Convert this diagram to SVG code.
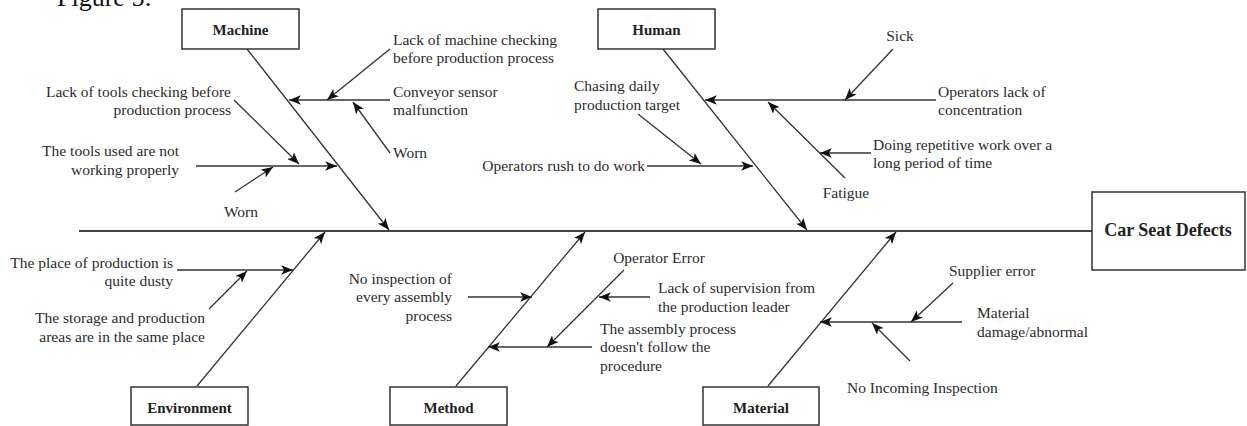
<svg xmlns="http://www.w3.org/2000/svg" width="1247" height="426" viewBox="0 0 1247 426">
<style>
  .t{font-family:"Liberation Serif","Times New Roman",serif;font-size:15.5px;fill:#2b2b2b}
  .b{font-family:"Liberation Serif","Times New Roman",serif;font-size:15px;font-weight:bold;fill:#222;text-anchor:middle}
  .r{text-anchor:end}
  .m{text-anchor:middle}
  .box{fill:#fff;stroke:#333;stroke-width:1.5}
  .ln{stroke:#333;stroke-width:1.3;fill:none}
  .a{stroke:#333;stroke-width:1.3;fill:none;marker-end:url(#ah)}
  .sp{stroke:#444;stroke-width:2;fill:none}
</style>
<defs>
  <marker id="ah" viewBox="0 0 10 8" refX="10" refY="4" markerWidth="12" markerHeight="9.5" markerUnits="userSpaceOnUse" orient="auto">
    <path d="M0,0 L10,4 L0,8 L2.5,4 Z" fill="#111"/>
  </marker>
</defs>
<rect width="1247" height="426" fill="#fff"/>
<text x="57" y="6" style="font-family:'Liberation Serif','Times New Roman',serif;font-size:26px;fill:#111">Figure 5:</text>

<g id="connectors">
  <line class="sp" x1="79" y1="231" x2="1092" y2="231"/>
  <!-- Machine -->
  <line class="a" x1="247" y1="49" x2="389" y2="230"/>
  <line class="a" x1="390" y1="100" x2="289" y2="100"/>
  <line class="a" x1="390" y1="49" x2="327" y2="100"/>
  <line class="a" x1="390" y1="153" x2="353" y2="102"/>
  <line class="a" x1="196" y1="166" x2="337" y2="166"/>
  <line class="a" x1="234" y1="100" x2="299" y2="164"/>
  <line class="a" x1="235" y1="192" x2="273" y2="167"/>
  <!-- Human -->
  <line class="a" x1="663" y1="49" x2="807" y2="230"/>
  <line class="a" x1="936" y1="100" x2="705" y2="100"/>
  <line class="a" x1="893" y1="49" x2="845" y2="100"/>
  <line class="a" x1="845" y1="178" x2="768" y2="102"/>
  <line class="a" x1="871" y1="153" x2="820" y2="153"/>
  <line class="a" x1="647" y1="166" x2="753" y2="166"/>
  <line class="a" x1="638" y1="114" x2="701" y2="164"/>
  <!-- Environment -->
  <line class="a" x1="197" y1="386" x2="325" y2="232"/>
  <line class="a" x1="177" y1="270" x2="293" y2="270"/>
  <line class="a" x1="209" y1="309" x2="247" y2="271"/>
  <!-- Method -->
  <line class="a" x1="456" y1="386" x2="585" y2="232"/>
  <line class="a" x1="468" y1="297" x2="532" y2="297"/>
  <line class="a" x1="592" y1="347" x2="488" y2="347"/>
  <line class="a" x1="624" y1="270" x2="547" y2="347"/>
  <line class="a" x1="650" y1="297" x2="599" y2="297"/>
  <!-- Material -->
  <line class="a" x1="768" y1="386" x2="896" y2="232"/>
  <line class="a" x1="962" y1="322" x2="820" y2="322"/>
  <line class="a" x1="953" y1="283" x2="911" y2="322"/>
  <line class="a" x1="910" y1="361" x2="872" y2="323"/>
</g>

<g id="effect">
  <rect class="box" x="1092" y="192" width="153" height="78"/>
  <text class="b" x="1168" y="236" style="font-size:18px">Car Seat Defects</text>
</g>
<g id="machine">
  <rect class="box" x="182" y="9" width="117" height="40"/>
  <text class="b" x="240.5" y="35">Machine</text>
</g>
<g id="human">
  <rect class="box" x="598" y="9" width="117" height="40"/>
  <text class="b" x="656.5" y="35">Human</text>
</g>
<g id="environment">
  <rect class="box" x="131" y="387" width="117" height="38"/>
  <text class="b" x="189.5" y="413">Environment</text>
</g>
<g id="method">
  <rect class="box" x="390" y="387" width="117" height="38"/>
  <text class="b" x="448.5" y="413">Method</text>
</g>
<g id="material">
  <rect class="box" x="703" y="387" width="116" height="38"/>
  <text class="b" x="761" y="413">Material</text>
</g>

<g id="causes-machine">
  <text class="t" x="393" y="45">Lack of machine checking</text>
  <text class="t" x="393" y="63">before production process</text>
  <text class="t" x="393" y="97">Conveyor sensor</text>
  <text class="t" x="393" y="115">malfunction</text>
  <text class="t" x="393" y="158">Worn</text>
  <text class="t r" x="231" y="97">Lack of tools checking before</text>
  <text class="t r" x="231" y="115">production process</text>
  <text class="t r" x="179" y="156">The tools used are not</text>
  <text class="t r" x="179" y="175">working properly</text>
  <text class="t m" x="241" y="217">Worn</text>
</g>
<g id="causes-human">
  <text class="t m" x="900" y="41">Sick</text>
  <text class="t" x="938" y="97">Operators lack of</text>
  <text class="t" x="938" y="115">concentration</text>
  <text class="t" x="873" y="150">Doing repetitive work over a</text>
  <text class="t" x="873" y="168">long period of time</text>
  <text class="t m" x="846" y="198">Fatigue</text>
  <text class="t" x="574" y="91">Chasing daily</text>
  <text class="t" x="574" y="110">production target</text>
  <text class="t r" x="645" y="171">Operators rush to do work</text>
</g>
<g id="causes-environment">
  <text class="t r" x="173" y="268">The place of production is</text>
  <text class="t r" x="173" y="286">quite dusty</text>
  <text class="t r" x="205" y="323">The storage and production</text>
  <text class="t r" x="205" y="342">areas are in the same place</text>
</g>
<g id="causes-method">
  <text class="t r" x="452" y="284">No inspection of</text>
  <text class="t r" x="452" y="302">every assembly</text>
  <text class="t r" x="452" y="321">process</text>
  <text class="t m" x="659" y="263">Operator Error</text>
  <text class="t" x="658" y="293">Lack of supervision from</text>
  <text class="t" x="658" y="312">the production leader</text>
  <text class="t" x="600" y="334">The assembly process</text>
  <text class="t" x="600" y="352">doesn't follow the</text>
  <text class="t" x="600" y="371">procedure</text>
</g>
<g id="causes-material">
  <text class="t" x="949" y="276">Supplier error</text>
  <text class="t" x="977" y="318">Material</text>
  <text class="t" x="977" y="337">damage/abnormal</text>
  <text class="t" x="847" y="393">No Incoming Inspection</text>
</g>
</svg>
